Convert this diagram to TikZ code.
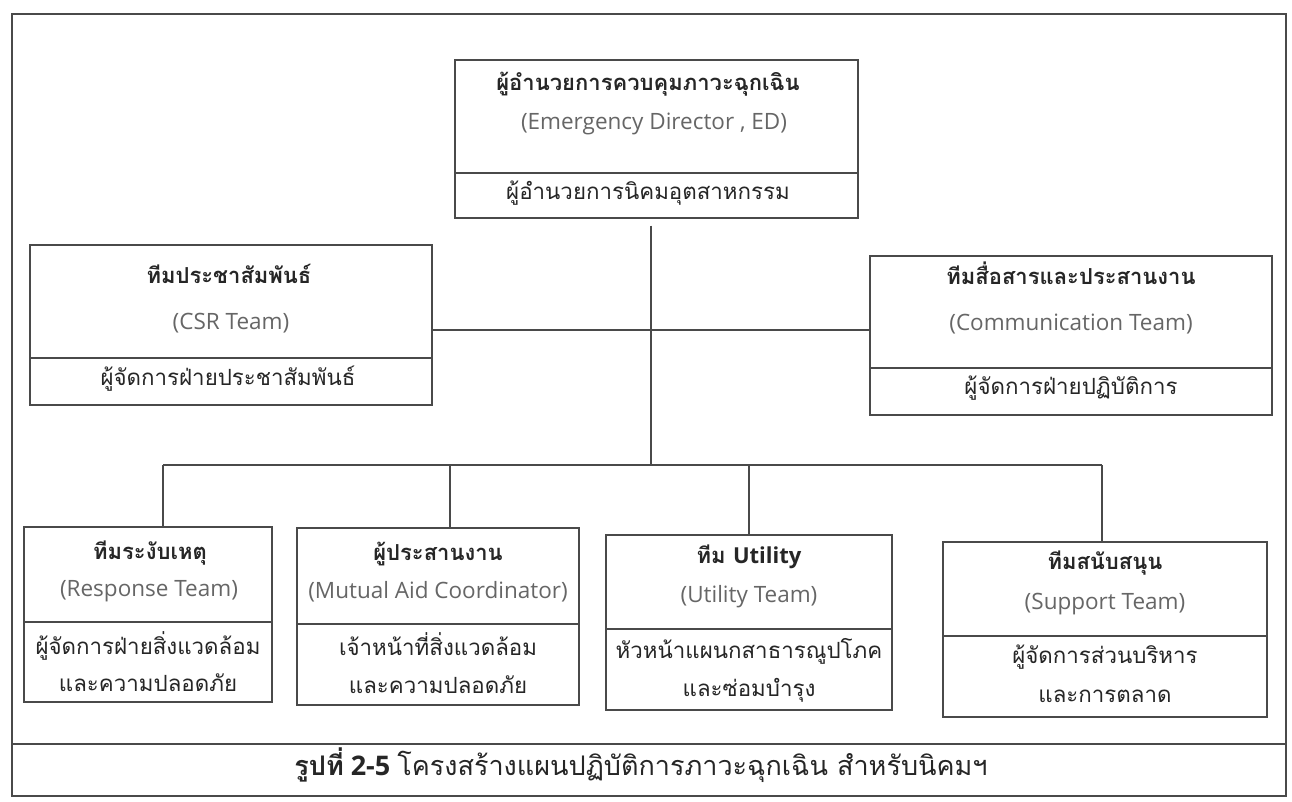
\documentclass[tikz,border=0pt]{standalone}
\usepackage{fontspec}
\setmainfont{Open Sans}
\newfontfamily\thai[Script=Thai]{Loma}
\definecolor{ink}{HTML}{262626}
\definecolor{eng}{HTML}{666666}
\definecolor{frame}{HTML}{4A4A4A}
\begin{document}
\begin{tikzpicture}[x=1pt,y=-1pt,
  box/.style={draw=frame, line width=1.4pt, rectangle, inner sep=0pt},
  link/.style={draw=frame, line width=1.3pt},
  thtitle/.style={font=\thai\bfseries\fontsize{22}{26}\selectfont, text=ink, inner sep=0pt, anchor=mid},
  thsub/.style={font=\thai\fontsize{22.3}{26}\selectfont, text=ink, inner sep=0pt, anchor=mid},
  en/.style={font=\fontsize{22.5}{27}\selectfont, text=eng, inner sep=0pt, anchor=mid},
  captext/.style={font=\fontsize{27}{31}\selectfont, text=ink, inner sep=0pt, anchor=mid}]
\fill[white] (0,0) rectangle (1292,802);
\useasboundingbox (0,0) rectangle (1292,802);

% outer frame and caption
\node[box, minimum width=1274pt, minimum height=782pt] (outer) at (649,405) {};
\draw[link] (outer.west |- 0,744) -- (outer.east |- 0,744);
\node[captext] (caption) at (641,773) {{\thai\bfseries รูปที่} {\bfseries 2-5} {\thai โครงสร้างแผนปฏิบัติการภาวะฉุกเฉิน สำหรับนิคมฯ}};

% Emergency Director
\node[box, minimum width=403pt, minimum height=158pt] (ed) at (656.5,139) {};
\draw[link] (ed.west |- 0,173) -- (ed.east |- 0,173);
\node[thtitle] (edT) at (648,88) {ผู้อำนวยการควบคุมภาวะฉุกเฉิน};
\node[en] (edE) at (654,127) {(Emergency Director , ED)};
\node[thsub] (edS) at (648,197) {ผู้อำนวยการนิคมอุตสาหกรรม};

% CSR team
\node[box, minimum width=402pt, minimum height=160pt] (csr) at (231,325) {};
\draw[link] (csr.west |- 0,358) -- (csr.east |- 0,358);
\node[thtitle] (csrT) at (229,281) {ทีมประชาสัมพันธ์};
\node[en] (csrE) at (231,327) {(CSR Team)};
\node[thsub] (csrS) at (228,383) {ผู้จัดการฝ่ายประชาสัมพันธ์};

% Communication team
\node[box, minimum width=402pt, minimum height=159pt] (comm) at (1071,335.5) {};
\draw[link] (comm.west |- 0,368) -- (comm.east |- 0,368);
\node[thtitle] (commT) at (1071,282) {ทีมสื่อสารและประสานงาน};
\node[en] (commE) at (1071,328) {(Communication Team)};
\node[thsub] (commS) at (1071,392) {ผู้จัดการฝ่ายปฏิบัติการ};

% Response team
\node[box, minimum width=248pt, minimum height=175pt] (resp) at (148,614.5) {};
\draw[link] (resp.west |- 0,622) -- (resp.east |- 0,622);
\node[thtitle] (respT) at (150,557) {ทีมระงับเหตุ};
\node[en] (respE) at (149,594) {(Response Team)};
\node[thsub] (respS1) at (148,652) {ผู้จัดการฝ่ายสิ่งแวดล้อม};
\node[thsub] (respS2) at (148,689) {และความปลอดภัย};

% Mutual aid coordinator
\node[box, minimum width=282pt, minimum height=177pt] (mut) at (438,616.5) {};
\draw[link] (mut.west |- 0,624) -- (mut.east |- 0,624);
\node[thtitle] (mutT) at (438,558) {ผู้ประสานงาน};
\node[en] (mutE) at (438,596) {(Mutual Aid Coordinator)};
\node[thsub] (mutS1) at (438,653) {เจ้าหน้าที่สิ่งแวดล้อม};
\node[thsub] (mutS2) at (438,691) {และความปลอดภัย};

% Utility team
\node[box, minimum width=286pt, minimum height=175pt] (util) at (749,622.5) {};
\draw[link] (util.west |- 0,629) -- (util.east |- 0,629);
\node[thtitle] (utilT) at (749,561) {ทีม {\rmfamily Utility}};
\node[en] (utilE) at (749,600) {(Utility Team)};
\node[thsub] (utilS1) at (749,656) {หัวหน้าแผนกสาธารณูปโภค};
\node[thsub] (utilS2) at (749,694) {และซ่อมบำรุง};

% Support team
\node[box, minimum width=324pt, minimum height=175pt] (supp) at (1105,629.5) {};
\draw[link] (supp.west |- 0,636) -- (supp.east |- 0,636);
\node[thtitle] (suppT) at (1105,567) {ทีมสนับสนุน};
\node[en] (suppE) at (1105,607) {(Support Team)};
\node[thsub] (suppS1) at (1105,661) {ผู้จัดการส่วนบริหาร};
\node[thsub] (suppS2) at (1105,700) {และการตลาด};

% connectors
\coordinate (hub) at (651,465);
\coordinate (mid) at (651,330);
\coordinate (busL) at (163,465);
\coordinate (busM) at (450,465);
\coordinate (busU) at (749,465);
\coordinate (busR) at (1102,465);
\draw[link] ([yshift=-7pt]ed.south -| hub) -- (hub);
\draw[link] (csr.east |- mid) -- (comm.west |- mid);
\draw[link] (busL) -- (busR);
\draw[link] (busL) -- (resp.north -| busL);
\draw[link] (busM) -- (mut.north -| busM);
\draw[link] (busU) -- (util.north -| busU);
\draw[link] (busR) -- (supp.north -| busR);
\end{tikzpicture}
\end{document}
